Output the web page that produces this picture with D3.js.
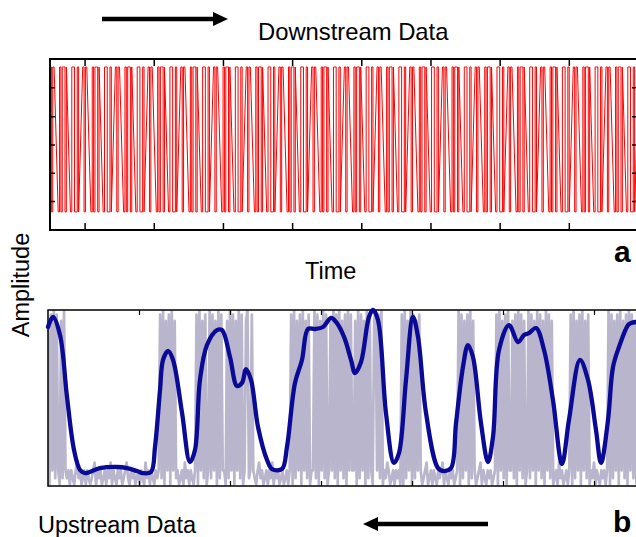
<!DOCTYPE html>
<html>
<head>
<meta charset="utf-8">
<script src="https://cdn.jsdelivr.net/npm/d3@7"></script>
<style>
  body { margin: 0; background: #fff; }
  svg { display: block; font-family: "Liberation Sans", Arial, Helvetica, sans-serif; }
</style>
</head>
<body>
<svg id="chart" width="636" height="537"></svg>
<script>
// ---- panel a: downstream bit stream ----
// one char per sample, '-' means no sample there (the line runs straight across)
const redBits = [
  "1011--0101101--0110010--", "1011--0101101--0110010--", "1011--0101101--0110010--",
  "1011--0101101--0110010--", "1011--0101101--0110010--", "1011--0101101--0110010--",
  "1011--0101101--0110010--", "1011--0101101--0110010--", "1011--0101101--0110010--",
  "1011--0101101--0110010--", "1011--0101101--0110010--", "1011--0101101--0110010--",
  "1011--0101101--0110010--", "1011--0101101--0110010--", "1011--0101101--0110010--",
  "1011--0101101--0110010--", "1011--0101101--0110010--", "1011--0101101--0110010--1"
];
const redStep = 0.0197;
const redLevel = { "0": 0, "1": 1 };
const topXTicks = [0.5, 1.5, 2.5, 3.5, 4.5, 5.5, 6.5, 7.5];
const topYTicks = [0.075, 0.27, 0.465, 0.66, 0.86];

// ---- panel b: upstream received signal ----
// A/B/C = high samples, k/l/m/n = low samples
const grayRuns = [
  "CnBlAmBlnCmAl",
  "mlnlmnlkmlnmlnlmnmlknlmlnmlnlmknlmnlmlnmlkmnlmlnmlnlmnkmlnlmnlml",
  "BmAnClBnAlCm",
  "lnmlnkmlnlmnl",
  "BnAlCmBnlAmBlCnAmBllnCmAlBnClAmBnlCAmlB",
  "lmnlkmlnmlnlmknlmlnmlnmlnl",
  "BnAmClBnAlCmBnllAmBnClAmBnlClAmBnAlCmBnAlBllCnAmBlCnAmBlnCAlBmA",
  "nlmklnmlnlmln",
  "BnAmClAnBmClB",
  "lnmlknmlnlmnlmlknlmnlmlnml",
  "AnBmClBnAmCl",
  "nmlknlmnlmlnml",
  "BnAlCmBnAllCmBnAlBmCnlAmBlCnAlBmCnAlBmCn",
  "mlnkmlnmlnl",
  "BnAmClBnAlCmB",
  "nlmknlmnlmlnl",
  "AnBmClBnAlCmBnAlBmCn"
];
const grayStep = 0.016;
const grayLevel = { A: 1.03, B: 1.0, C: 0.96, k: 0.05, l: 0, m: -0.05, n: -0.09 };

// smoothed upstream envelope (time, amplitude)
const blueT = [0, 0.055, 0.132, 0.209, 0.286, 0.352, 0.407, 0.571, 0.758, 0.868, 0.978, 1.044, 1.132,
  1.176, 1.231, 1.264, 1.319, 1.374, 1.473, 1.56, 1.615, 1.67, 1.747, 1.857, 1.912, 2.0, 2.077, 2.132,
  2.176, 2.231, 2.308, 2.407, 2.462, 2.571, 2.626, 2.714, 2.791, 2.857, 2.934, 3.022, 3.11, 3.165,
  3.253, 3.33, 3.374, 3.44, 3.527, 3.571, 3.626, 3.714, 3.802, 3.857, 3.934, 4.011, 4.066, 4.154,
  4.286, 4.352, 4.429, 4.484, 4.56, 4.615, 4.67, 4.758, 4.835, 4.89, 4.956, 5.066, 5.165, 5.231,
  5.286, 5.363, 5.451, 5.549, 5.648, 5.725, 5.846, 5.934, 6.022, 6.077, 6.154, 6.209, 6.275, 6.374,
  6.407, 6.462];
const blueA = [0.921, 0.985, 0.869, 0.471, 0.131, 0.003, -0.017, 0.015, 0.022, 0.015, -0.004, -0.017, -0.01,
  0.15, 0.516, 0.709, 0.767, 0.709, 0.369, 0.054, 0.131, 0.581, 0.805, 0.901, 0.901, 0.728, 0.542, 0.562,
  0.651, 0.581, 0.279, 0.067, 0.009, 0.009, 0.15, 0.561, 0.709, 0.908, 0.908, 0.921, 0.979, 0.953,
  0.857, 0.709, 0.625, 0.696, 0.985, 1.03, 0.966, 0.369, 0.048, 0.112, 0.581, 0.985, 0.857, 0.369,
  0.015, -0.004, 0.015, 0.304, 0.664, 0.805, 0.728, 0.304, 0.054, 0.215, 0.773, 0.933, 0.824, 0.869,
  0.882, 0.914, 0.773, 0.452, 0.041, 0.324, 0.709, 0.581, 0.259, 0.048, 0.324, 0.664, 0.793, 0.933,
  0.946, 0.953];
const bottomXTicks = [1, 2, 3, 4, 5, 6];

// ---- drawing ----
const svg = d3.select("#chart");
const defs = svg.append("defs");

const xTop = d3.scaleLinear().domain([0, 8.5]).range([50, 638]);
const yTop = d3.scaleLinear().domain([-0.125, 1.055]).range([230, 59]);
const xBot = d3.scaleLinear().domain([0, 6.5]).range([48, 639.5]);
const yBot = d3.scaleLinear().domain([-0.1, 1.03]).range([486, 310]);

defs.append("clipPath").attr("id", "clipTop").append("rect")
  .attr("x", 50).attr("y", 59).attr("width", 588).attr("height", 171);
defs.append("clipPath").attr("id", "clipBot").append("rect")
  .attr("x", 48).attr("y", 310).attr("width", 592).attr("height", 176);

// panel a: adjacent samples switch with a vertical edge, gaps become slanted runs
const redPts = [];
let prev = null;
redBits.join("").split("").forEach((c, i) => {
  if (c === "-") return;
  const v = redLevel[c];
  if (prev && prev.i === i - 1 && prev.v !== v) redPts.push([i * redStep, prev.v]);
  redPts.push([i * redStep, v]);
  prev = { i, v };
});
svg.append("path")
  .datum(redPts)
  .attr("clip-path", "url(#clipTop)")
  .attr("fill", "none")
  .attr("stroke", "#ff0000")
  .attr("stroke-width", 1)
  .attr("d", d3.line().x(d => xTop(d[0])).y(d => yTop(d[1])));

const noLabel = () => "";
const topAxes = svg.append("g").attr("class", "axes-a");
topAxes.append("g").attr("transform", "translate(0,230)")
  .call(d3.axisBottom(xTop).tickValues(topXTicks).tickSize(-7).tickFormat(noLabel));
topAxes.append("g").attr("transform", "translate(0,59)")
  .call(d3.axisTop(xTop).tickValues(topXTicks).tickSize(-7).tickFormat(noLabel));
topAxes.append("g").attr("transform", "translate(50,0)")
  .call(d3.axisLeft(yTop).tickValues(topYTicks).tickSize(-5).tickFormat(noLabel));
topAxes.append("g").attr("transform", "translate(638,0)")
  .call(d3.axisRight(yTop).tickValues(topYTicks).tickSize(-6).tickFormat(noLabel));
topAxes.selectAll(".domain").remove();
topAxes.selectAll(".tick line").attr("stroke", "#000").attr("stroke-width", 1.5);
svg.append("rect")
  .attr("x", 50).attr("y", 59).attr("width", 588).attr("height", 171)
  .attr("fill", "none").attr("stroke", "#000").attr("stroke-width", 2);

// panel b
const grayPts = grayRuns.join("").split("").map((c, i) => [i * grayStep, grayLevel[c]]);
svg.append("path")
  .datum(grayPts)
  .attr("clip-path", "url(#clipBot)")
  .attr("fill", "none")
  .attr("stroke", "#b9b5cc")
  .attr("stroke-width", 2.7)
  .attr("stroke-linejoin", "round")
  .attr("d", d3.line().x(d => xBot(d[0])).y(d => yBot(d[1])));

const botAxes = svg.append("g").attr("class", "axes-b");
botAxes.append("g").attr("transform", "translate(0,486)")
  .call(d3.axisBottom(xBot).tickValues(bottomXTicks).tickSize(-5).tickFormat(noLabel));
botAxes.append("g").attr("transform", "translate(0,310)")
  .call(d3.axisTop(xBot).tickValues(bottomXTicks).tickSize(-5).tickFormat(noLabel));
botAxes.selectAll(".domain").remove();
botAxes.selectAll(".tick line").attr("stroke", "#000").attr("stroke-width", 1.2);
svg.append("rect")
  .attr("x", 48).attr("y", 310).attr("width", 591.5).attr("height", 176)
  .attr("fill", "none").attr("stroke", "#000").attr("stroke-width", 1.5);

const bluePts = blueT.map((t, i) => [t, blueA[i]]);
svg.append("path")
  .datum(bluePts)
  .attr("fill", "none")
  .attr("stroke", "#0a0a96")
  .attr("stroke-width", 4.3)
  .attr("stroke-linejoin", "round")
  .attr("stroke-linecap", "round")
  .attr("d", d3.line().curve(d3.curveCatmullRom.alpha(0.5)).x(d => xBot(d[0])).y(d => yBot(d[1])));

// arrows
const arrow = (x1, x2, y) => {
  const dir = Math.sign(x2 - x1);
  const base = x2 - dir * 15;
  svg.append("line").attr("x1", x1).attr("x2", base).attr("y1", y).attr("y2", y)
    .attr("stroke", "#000").attr("stroke-width", 4.5);
  svg.append("path")
    .attr("d", `M${x2},${y} L${base},${y - 7} L${base},${y + 7} Z`)
    .attr("fill", "#000");
};
arrow(102, 228, 19);
arrow(488, 363, 524);

// labels
const label = (txt, x, y, size, weight) => svg.append("text")
  .attr("x", x).attr("y", y)
  .attr("font-size", size).attr("font-weight", weight || "normal")
  .attr("fill", "#000").text(txt);
label("Downstream Data", 258, 40, 23.8);
label("Time", 305, 279, 23.5);
label("Upstream Data", 38, 533, 23.5);
label("a", 614, 262, 30, "bold");
label("b", 613, 532, 30, "bold");
svg.append("text")
  .attr("transform", "translate(29,285) rotate(-90)")
  .attr("text-anchor", "middle")
  .attr("font-size", 23.5)
  .attr("fill", "#000")
  .text("Amplitude");
</script>
</body>
</html>
